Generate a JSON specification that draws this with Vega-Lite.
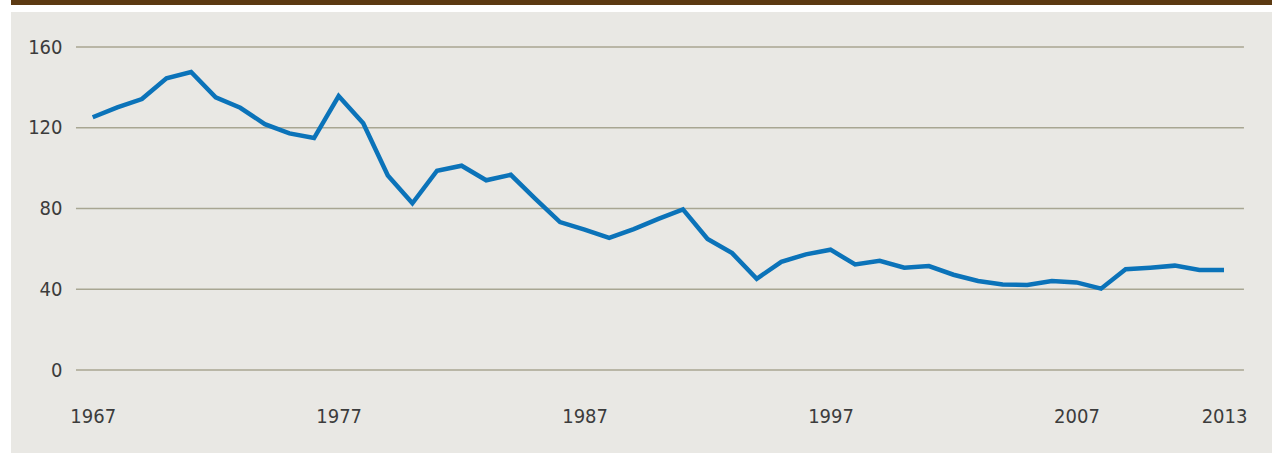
{
  "$schema": "https://vega.github.io/schema/vega-lite/v6.json",
  "background": "white",
  "padding": {"left": 11, "top": 0, "right": 0, "bottom": 0},
  "autosize": {"type": "pad"},
  "spacing": 7,
  "datasets": {
    "series": [
      {"year": 1967, "value": 125.2},
      {"year": 1968, "value": 130.1},
      {"year": 1969, "value": 134.2},
      {"year": 1970, "value": 144.5},
      {"year": 1971, "value": 147.6},
      {"year": 1972, "value": 135.1},
      {"year": 1973, "value": 129.9},
      {"year": 1974, "value": 121.8},
      {"year": 1975, "value": 117.2},
      {"year": 1976, "value": 114.9},
      {"year": 1977, "value": 135.7},
      {"year": 1978, "value": 122.2},
      {"year": 1979, "value": 96.4},
      {"year": 1980, "value": 82.6},
      {"year": 1981, "value": 98.7},
      {"year": 1982, "value": 101.2},
      {"year": 1983, "value": 94.0},
      {"year": 1984, "value": 96.7},
      {"year": 1985, "value": 84.8},
      {"year": 1986, "value": 73.3},
      {"year": 1987, "value": 69.5},
      {"year": 1988, "value": 65.4},
      {"year": 1989, "value": 69.8},
      {"year": 1990, "value": 74.9},
      {"year": 1991, "value": 79.6},
      {"year": 1992, "value": 64.9},
      {"year": 1993, "value": 57.9},
      {"year": 1994, "value": 45.2},
      {"year": 1995, "value": 53.6},
      {"year": 1996, "value": 57.3},
      {"year": 1997, "value": 59.6},
      {"year": 1998, "value": 52.3},
      {"year": 1999, "value": 54.1},
      {"year": 2000, "value": 50.7},
      {"year": 2001, "value": 51.5},
      {"year": 2002, "value": 47.2},
      {"year": 2003, "value": 44.1},
      {"year": 2004, "value": 42.4},
      {"year": 2005, "value": 42.1},
      {"year": 2006, "value": 44.1},
      {"year": 2007, "value": 43.4},
      {"year": 2008, "value": 40.3},
      {"year": 2009, "value": 49.9},
      {"year": 2010, "value": 50.7},
      {"year": 2011, "value": 51.7},
      {"year": 2012, "value": 49.5},
      {"year": 2013, "value": 49.5}
    ],
    "grid": [{"v": 0}, {"v": 40}, {"v": 80}, {"v": 120}, {"v": 160}],
    "bar": [{"k": 1}]
  },
  "vconcat": [
    {
      "width": 1261,
      "height": 5,
      "data": {"name": "bar"},
      "mark": {"type": "point", "size": 0, "opacity": 0, "filled": true, "strokeWidth": 0},
      "encoding": {},
      "view": {"fill": "#5c3a12", "stroke": null}
    },
    {
      "width": 1261,
      "height": 441,
      "view": {"fill": "#e9e8e4", "stroke": null},
      "encoding": {
        "x": {
          "type": "quantitative",
          "scale": {"domain": [1963.678, 2014.951], "nice": false, "zero": false},
          "axis": {
            "values": [1967, 1977, 1987, 1997, 2007, 2013],
            "format": "d", "title": null, "grid": false, "domain": false, "ticks": false, "tickSize": 0,
            "offset": -31, "labelPadding": 0, "labelBaseline": "alphabetic",
            "labelFont": "DejaVu Sans Condensed, sans-serif",
            "labelFontSize": 20, "labelColor": "#3c3c3c", "labelFlush": false, "labelOverlap": false
          }
        },
        "y": {
          "type": "quantitative",
          "scale": {"domain": [-41.11, 177.34], "nice": false, "zero": false},
          "axis": {
            "values": [0, 40, 80, 120, 160],
            "title": null, "grid": false, "domain": false, "ticks": false, "tickSize": 0,
            "offset": -51, "labelPadding": 0, "labelAlign": "right", "labelBaseline": "middle",
            "labelFont": "DejaVu Sans Condensed, sans-serif",
            "labelFontSize": 20, "labelColor": "#3c3c3c", "labelFlush": false, "labelOverlap": false
          }
        }
      },
      "layer": [
        {
          "data": {"name": "grid"},
          "mark": {"type": "rule", "color": "#a8a692", "strokeWidth": 1.6},
          "encoding": {
            "y": {"field": "v"},
            "x": {"datum": 1966.32},
            "x2": {"datum": 2013.81}
          }
        },
        {
          "data": {"name": "series"},
          "mark": {"type": "line", "color": "#0b73b9", "strokeWidth": 4.5},
          "encoding": {
            "x": {"field": "year"},
            "y": {"field": "value"}
          }
        }
      ]
    }
  ]
}
